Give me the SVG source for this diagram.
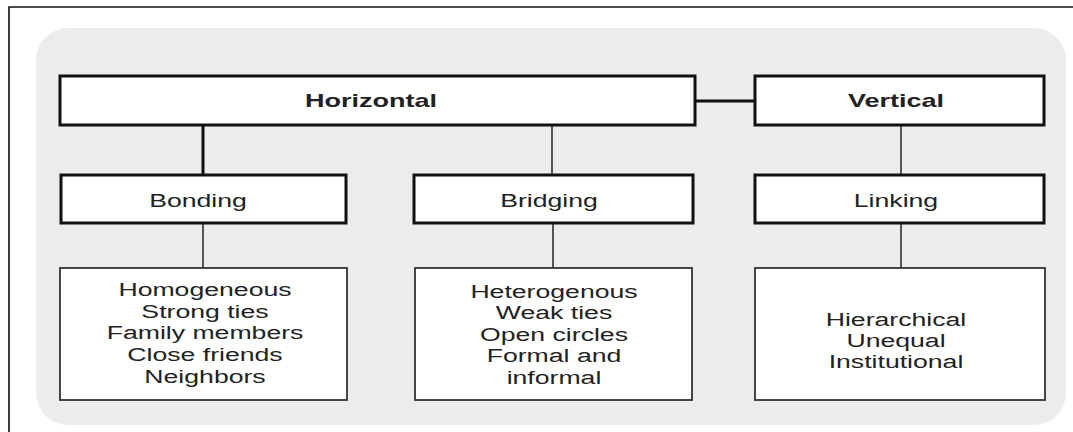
<svg xmlns="http://www.w3.org/2000/svg" width="1073" height="432" viewBox="0 0 1073 432">
<style>
.frame{fill:none;stroke:#111;stroke-width:1.6}
.panel{fill:#ececec}
.top{fill:#fff;stroke:#111;stroke-width:3}
.detail{fill:#fff;stroke:#333;stroke-width:1.8}
.thick{stroke:#111;stroke-width:3;fill:none}
.thin{stroke:#444;stroke-width:1.8;fill:none}
text{font-family:"Liberation Sans",Arial,sans-serif;font-size:18px;fill:#222;text-anchor:middle}
.b{font-weight:bold}
</style>
<rect x="0" y="0" width="1073" height="432" fill="#fff"/>
<path class="frame" d="M9,432 V7 H1073"/>
<rect class="panel" x="36" y="28" width="1030" height="397" rx="32" ry="32"/>
<g id="connectors">
<line class="thick" x1="695" y1="101" x2="755" y2="101"/>
<line class="thick" x1="203" y1="125" x2="203" y2="175"/>
<line class="thin" x1="552" y1="125" x2="552" y2="175"/>
<line class="thin" x1="901" y1="125" x2="901" y2="175"/>
<line class="thin" x1="203" y1="223" x2="203" y2="268"/>
<line class="thin" x1="553" y1="223" x2="553" y2="268"/>
<line class="thin" x1="901" y1="223" x2="901" y2="268"/>
</g>
<g id="horizontal">
<rect class="top" x="60" y="76" width="635" height="49"/>
<text class="b" transform="translate(371,107) scale(1.5,1)">Horizontal</text>
</g>
<g id="vertical">
<rect class="top" x="755" y="76" width="289" height="49"/>
<text class="b" transform="translate(896,107) scale(1.5,1)">Vertical</text>
</g>
<g id="bonding">
<rect class="top" x="61" y="175" width="285" height="48"/>
<text transform="translate(198,207) scale(1.48,1)">Bonding</text>
</g>
<g id="bridging">
<rect class="top" x="414" y="175" width="279" height="48"/>
<text transform="translate(549,207) scale(1.48,1)">Bridging</text>
</g>
<g id="linking">
<rect class="top" x="755" y="175" width="289" height="48"/>
<text transform="translate(896,207) scale(1.48,1)">Linking</text>
</g>
<g id="bonding-detail">
<rect class="detail" x="60" y="268" width="287" height="132"/>
<text transform="translate(205,296) scale(1.48,1)">Homogeneous</text>
<text transform="translate(205,318) scale(1.48,1)">Strong ties</text>
<text transform="translate(205,339) scale(1.48,1)">Family members</text>
<text transform="translate(205,361) scale(1.48,1)">Close friends</text>
<text transform="translate(205,383) scale(1.48,1)">Neighbors</text>
</g>
<g id="bridging-detail">
<rect class="detail" x="415" y="268" width="277" height="132"/>
<text transform="translate(554,298) scale(1.48,1)">Heterogenous</text>
<text transform="translate(554,319) scale(1.48,1)">Weak ties</text>
<text transform="translate(554,341) scale(1.48,1)">Open circles</text>
<text transform="translate(554,362) scale(1.48,1)">Formal and</text>
<text transform="translate(554,384) scale(1.48,1)">informal</text>
</g>
<g id="linking-detail">
<rect class="detail" x="755" y="268" width="290" height="132"/>
<text transform="translate(896,326) scale(1.48,1)">Hierarchical</text>
<text transform="translate(896,347) scale(1.48,1)">Unequal</text>
<text transform="translate(896,368) scale(1.48,1)">Institutional</text>
</g>
</svg>
